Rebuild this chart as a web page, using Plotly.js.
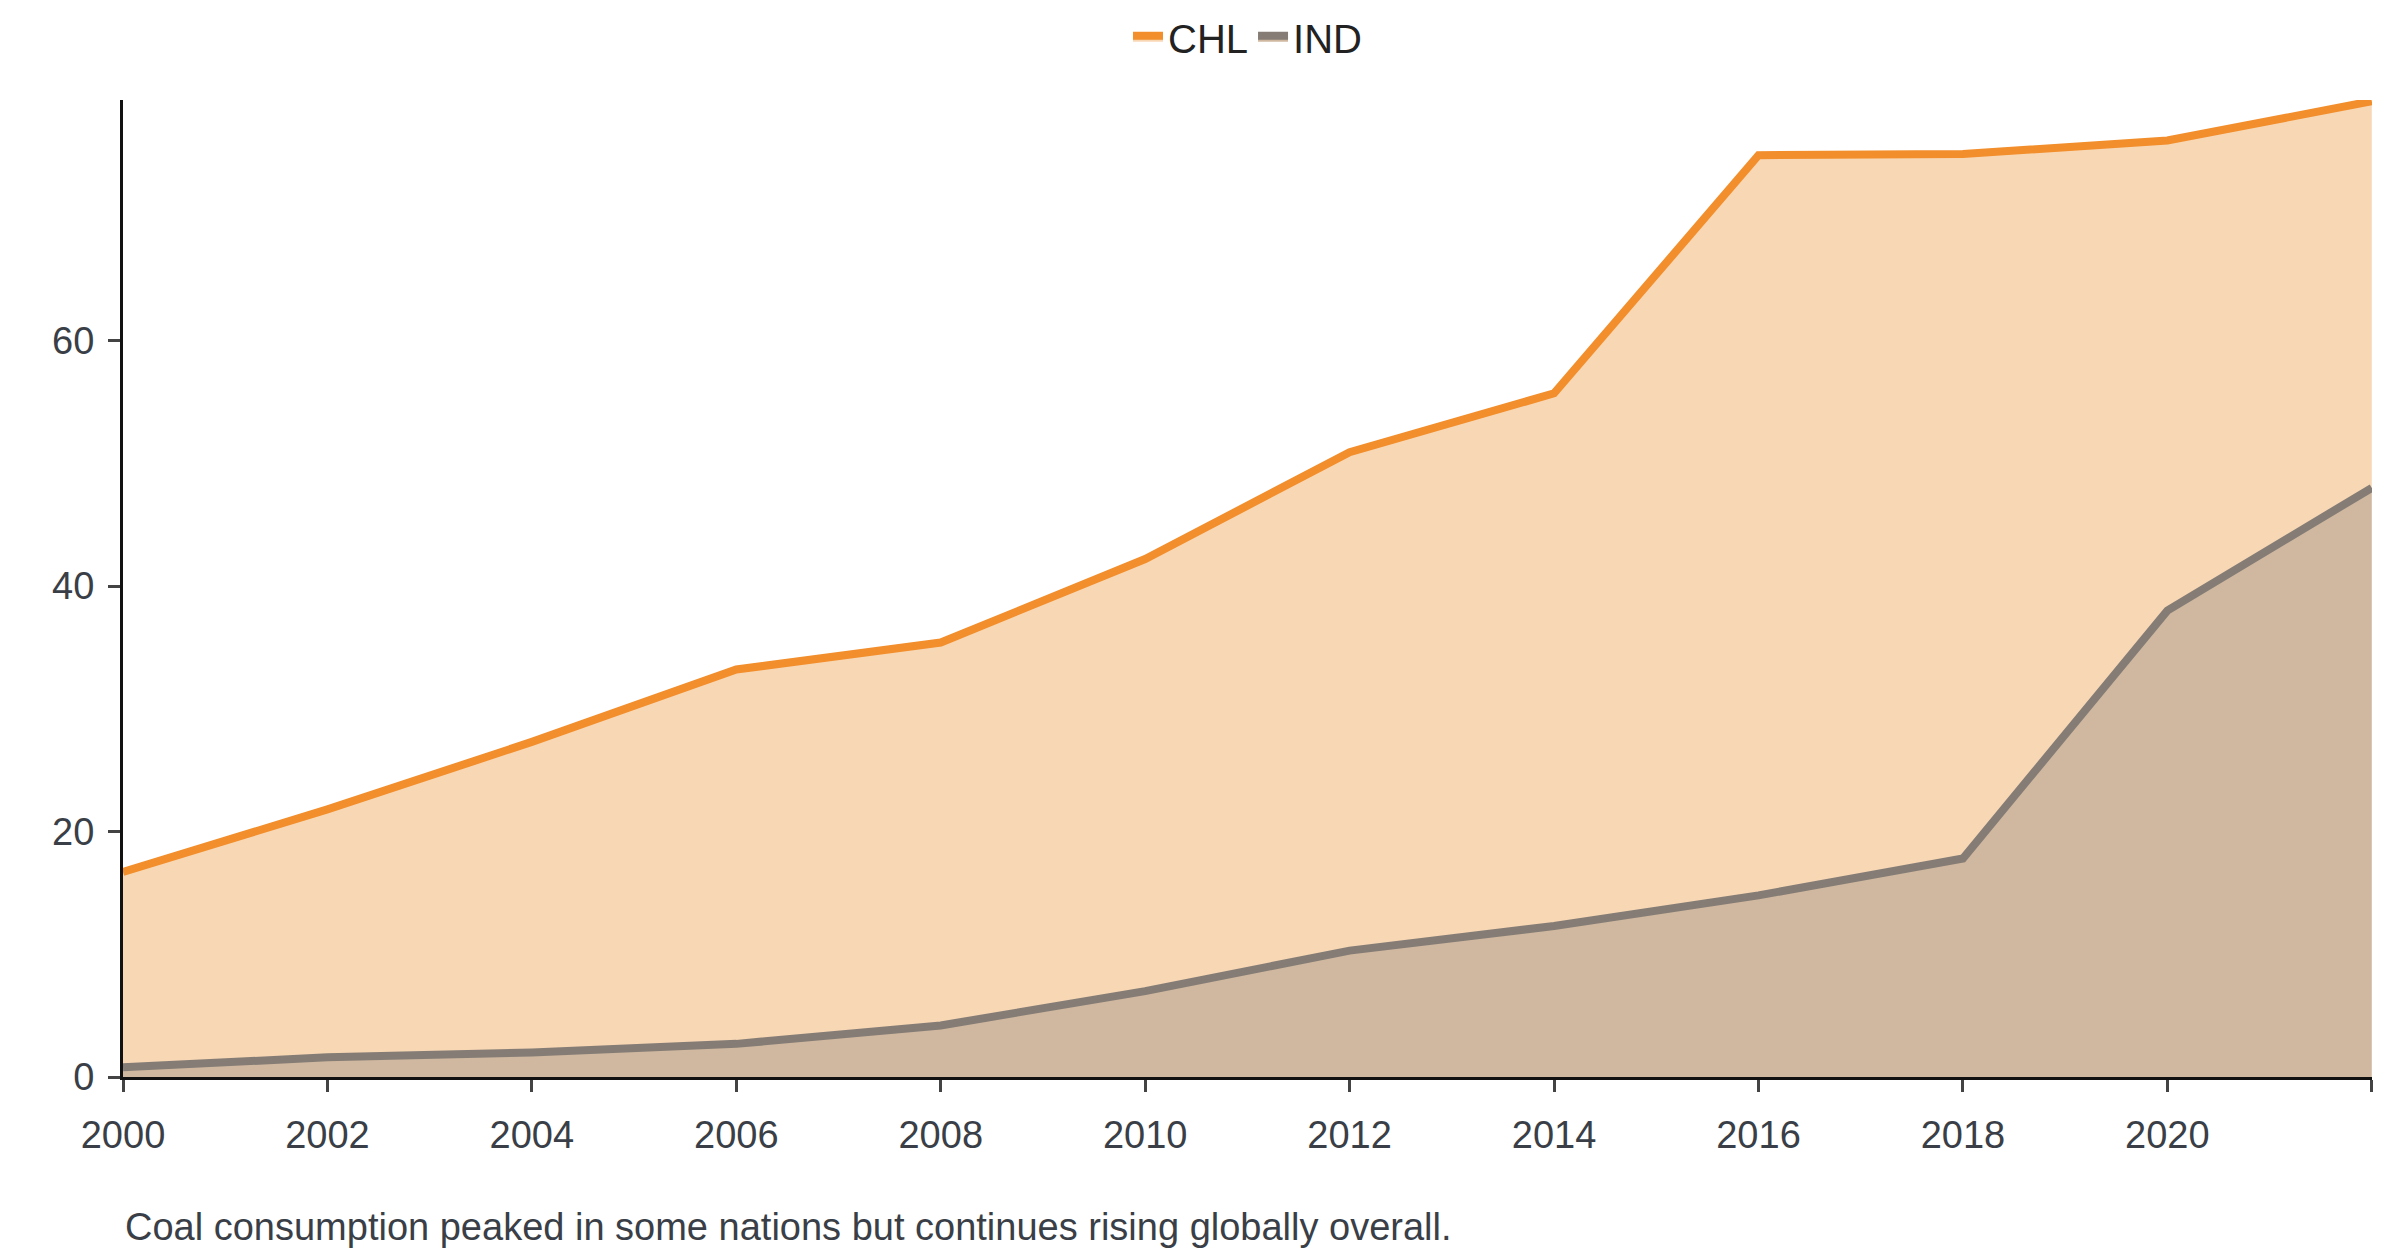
<!DOCTYPE html>
<html><head><script src="https://cdn.plot.ly/plotly-3.0.1.min.js"></script>
<style>body{margin:0}</style></head><body>
<div id="c" style="width:2400px;height:1256px"></div>
<script>
const years=[2000,2002,2004,2006,2008,2010,2012,2014,2016,2018,2020,2022];
const ind=[0.8,1.6,2.0,2.7,4.2,7.0,10.3,12.3,14.8,17.8,38.0,48.0];
const chl=[15.9,20.2,25.3,30.5,31.2,35.2,40.6,43.4,60.3,57.4,38.3,31.5];
const xTicks=[2000,2002,2004,2006,2008,2010,2012,2014,2016,2018,2020,2022];
const f="Liberation Sans, Arial, sans-serif";
Plotly.newPlot('c',[
 {x:years,y:ind,name:'IND',type:'scatter',mode:'lines',stackgroup:'a',
  line:{color:'#857d75',width:8},fillcolor:'#4e79a7'},
 {x:years,y:chl,name:'CHL',type:'scatter',mode:'lines',stackgroup:'a',
  line:{color:'#f28e2b',width:8},fillcolor:'#f8d7b5'}
],{
 width:2400,height:1256,margin:{l:123,r:28,t:100,b:179},
 paper_bgcolor:'#fff',plot_bgcolor:'#fff',showlegend:true,
 font:{family:f,size:38,color:'#3a3f47'},
 legend:{orientation:'h',x:0.5,xanchor:'center',y:0.97,yanchor:'middle',yref:'container',font:{size:40,color:'#222'}},
 xaxis:{range:[2000,2022.002],tickvals:xTicks,ticks:'outside',ticklen:12,tickwidth:3,ticklabelstandoff:10,showline:true,linewidth:3,linecolor:'#111',showgrid:false,zeroline:false,tickfont:{size:38}},
 yaxis:{range:[0,79.6],tickvals:[0,20,40,60],ticks:'outside',ticklen:12,tickwidth:3,ticklabelstandoff:6,showline:true,linewidth:3,linecolor:'#111',showgrid:false,zeroline:false,tickfont:{size:38}},
 annotations:[{text:'Coal consumption peaked in some nations but continues rising globally overall.',xref:'paper',yref:'paper',x:0,y:-0.13,xanchor:'left',yanchor:'top',showarrow:false,font:{size:38,color:'#3a3f47'}}]
},{displayModeBar:false}).then(()=>{
 // restore IND fill colour (legend swatch blue, area tan)
 document.querySelectorAll('.js-fill').forEach((p,i)=>{ if(i===0||p.style.fill.indexOf('78, 121, 167')>=0) p.style.fill='#d0b8a0'; });
});
</script></body></html>
